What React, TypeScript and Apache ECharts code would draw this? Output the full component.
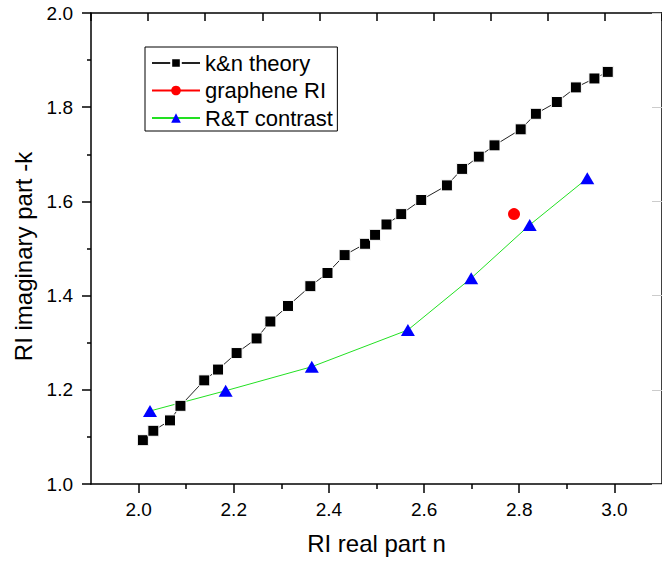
import React, { useEffect, useRef } from "react";
import * as echarts from "echarts";

const knN = [2.009, 2.031, 2.066, 2.088, 2.138, 2.167, 2.206, 2.248, 2.277, 2.314, 2.361, 2.397, 2.433, 2.476, 2.497, 2.521, 2.552, 2.594, 2.648, 2.680, 2.715, 2.748, 2.803, 2.835, 2.879, 2.919, 2.958, 2.986];
const knK = [1.093, 1.113, 1.135, 1.166, 1.220, 1.243, 1.278, 1.309, 1.345, 1.378, 1.420, 1.448, 1.486, 1.510, 1.529, 1.551, 1.573, 1.603, 1.634, 1.669, 1.695, 1.719, 1.753, 1.786, 1.811, 1.842, 1.861, 1.875];
const grapheneN = [2.789];
const grapheneK = [1.573];
const rtN = [2.024, 2.183, 2.364, 2.566, 2.699, 2.822, 2.943];
const rtK = [1.155, 1.198, 1.249, 1.327, 1.437, 1.550, 1.649];

const xMajorTicks = [2.0, 2.2, 2.4, 2.6, 2.8, 3.0];
const xMinorTicks = [2.1, 2.3, 2.5, 2.7, 2.9];
const seriesNames = ["k&n theory", "graphene RI", "R&T contrast"];
const xTitle = "RI real part n";
const yTitle = "RI imaginary part -k";

const FONT = "'Liberation Sans', Arial, sans-serif";

export default function App() {
  const ref = useRef<HTMLDivElement>(null);
  useEffect(() => {
    if (!ref.current) return;
    const chart = echarts.init(ref.current, null, { renderer: "svg" });
    const axisLine = { show: true, onZero: false, lineStyle: { color: "#000", width: 1.5 } };
    const tickStyle = { color: "#000", width: 1.5 };
    chart.setOption({
      animation: false,
      backgroundColor: "#fff",
      grid: { left: 91, top: 13, width: 580, height: 471, containLabel: false },
      xAxis: [
        {
          type: "value", min: 1.9, max: 3.1, position: "bottom",
          axisLine,
          axisTick: { show: true, inside: false, length: 9, customValues: xMajorTicks, lineStyle: tickStyle },
          axisLabel: { show: true, customValues: xMajorTicks, formatter: (v: number) => v.toFixed(1), fontSize: 19, margin: 16, color: "#000", fontFamily: FONT },
          splitLine: { show: false },
          name: xTitle, nameLocation: "middle", nameGap: 47,
          nameTextStyle: { fontSize: 24, color: "#000", fontFamily: FONT },
        },
        {
          type: "value", min: 1.9, max: 3.1, position: "bottom",
          axisLine: { show: false, onZero: false },
          axisTick: { show: true, inside: false, length: 5, customValues: xMinorTicks, lineStyle: tickStyle },
          axisLabel: { show: false },
          splitLine: { show: false },
        },
        {
          type: "value", min: 0, max: 10, interval: 1, position: "top",
          axisLine,
          axisTick: { show: true, inside: true, length: 8, lineStyle: tickStyle },
          axisLabel: { show: false },
          splitLine: { show: false },
        },
      ],
      yAxis: [
        {
          type: "value", min: 1.0, max: 2.0, interval: 0.2, position: "left",
          axisLine,
          axisTick: { show: true, inside: false, length: 9, lineStyle: tickStyle },
          minorTick: { show: true, splitNumber: 2, length: 4, lineStyle: tickStyle },
          axisLabel: { formatter: (v: number) => v.toFixed(1), fontSize: 19, margin: 18, color: "#000", fontFamily: FONT },
          splitLine: { show: false },
          name: yTitle, nameLocation: "middle", nameGap: 55,
          nameTextStyle: { fontSize: 24, color: "#000", fontFamily: FONT, padding: [0, 16, 0, 0] },
        },
        {
          type: "value", min: 1.0, max: 2.0, interval: 0.2, position: "right",
          axisLine,
          axisTick: { show: true, inside: true, length: 10, lineStyle: { color: "#ccc", width: 1 } },
          axisLabel: { show: false },
          splitLine: { show: false },
        },
      ],
      legend: {
        orient: "vertical", left: 145, top: 47,
        itemWidth: 48, itemHeight: 12, itemGap: 5.5,
        padding: [5, 4, 2, 6],
        borderColor: "#000", borderWidth: 1,
        textStyle: { fontSize: 22, color: "#000", fontFamily: FONT },
        data: seriesNames,
      },
      series: [
        {
          name: seriesNames[0], type: "line", xAxisIndex: 0, yAxisIndex: 0,
          data: knN.map((n, i) => [n, knK[i]]),
          symbol: "rect", symbolSize: 11,
          itemStyle: { color: "#000", borderColor: "#fff", borderWidth: 1 },
          lineStyle: { color: "#222", width: 1 },
        },
        {
          name: seriesNames[1], type: "line", xAxisIndex: 0, yAxisIndex: 0,
          data: grapheneN.map((n, i) => [n, grapheneK[i]]),
          symbol: "circle", symbolSize: 12,
          itemStyle: { color: "#ff0000" },
          lineStyle: { color: "#ff0000", width: 1 },
        },
        {
          name: seriesNames[2], type: "line", xAxisIndex: 0, yAxisIndex: 0,
          data: rtN.map((n, i) => [n, rtK[i]]),
          symbol: "triangle", symbolSize: [14, 12],
          itemStyle: { color: "#0000ff" },
          lineStyle: { color: "#22e022", width: 1 },
        },
      ],
    });
    return () => chart.dispose();
  }, []);
  return <div ref={ref} style={{ position: "fixed", left: 0, top: 0, width: 662, height: 563, background: "#fff" }} />;
}
